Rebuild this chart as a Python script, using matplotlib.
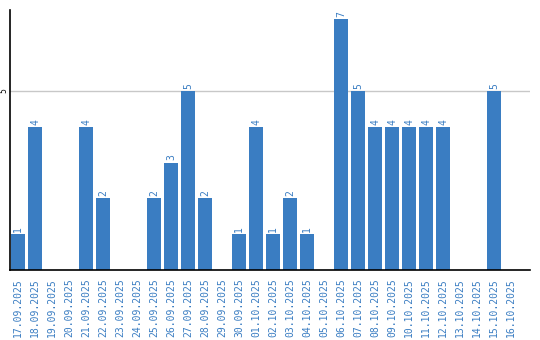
import matplotlib.pyplot as plt

dates = ["17.09.2025", "18.09.2025", "19.09.2025", "20.09.2025", "21.09.2025",
         "22.09.2025", "23.09.2025", "24.09.2025", "25.09.2025", "26.09.2025",
         "27.09.2025", "28.09.2025", "29.09.2025", "30.09.2025", "01.10.2025",
         "02.10.2025", "03.10.2025", "04.10.2025", "05.10.2025", "06.10.2025",
         "07.10.2025", "08.10.2025", "09.10.2025", "10.10.2025", "11.10.2025",
         "12.10.2025", "13.10.2025", "14.10.2025", "15.10.2025", "16.10.2025"]
counts = [1, 4, 0, 0, 4, 2, 0, 0, 2, 3, 5, 2, 0, 1, 4,
          1, 2, 1, 0, 7, 5, 4, 4, 4, 4, 4, 0, 0, 5, 0]

blue = "#3a7dc2"

fig = plt.figure(figsize=(5.4, 3.4), dpi=100)
ax = fig.add_axes([10 / 540, 70 / 340, 520 / 540, 260 / 340])

x = range(len(dates))
ax.bar(x, counts, width=0.82, color=blue, zorder=2)
for i, v in enumerate(counts):
    if v > 0:
        ax.text(i, v + 0.06, str(v), rotation=90, ha="center", va="bottom",
                color=blue, fontsize=7, family="DejaVu Sans Mono")

ax.set_xlim(-0.47, 30.1)
ax.set_ylim(0, 7.26)
ax.set_yticks([5])
ax.set_yticklabels(["5"], rotation=90, va="center", fontsize=5.5)
ax.yaxis.grid(True, color="#c8c8c8", linewidth=1, zorder=0)
ax.tick_params(axis="y", length=0, pad=1)

ax.set_xticks(list(x))
ax.set_xticklabels(dates, rotation=90, color=blue, fontsize=7,
                   family="DejaVu Sans Mono")
ax.tick_params(axis="x", length=0, pad=6)

for s in ["top", "right"]:
    ax.spines[s].set_visible(False)
ax.spines["left"].set_linewidth(1.2)
ax.spines["bottom"].set_linewidth(1.2)

fig.savefig("out.png", dpi=100)
